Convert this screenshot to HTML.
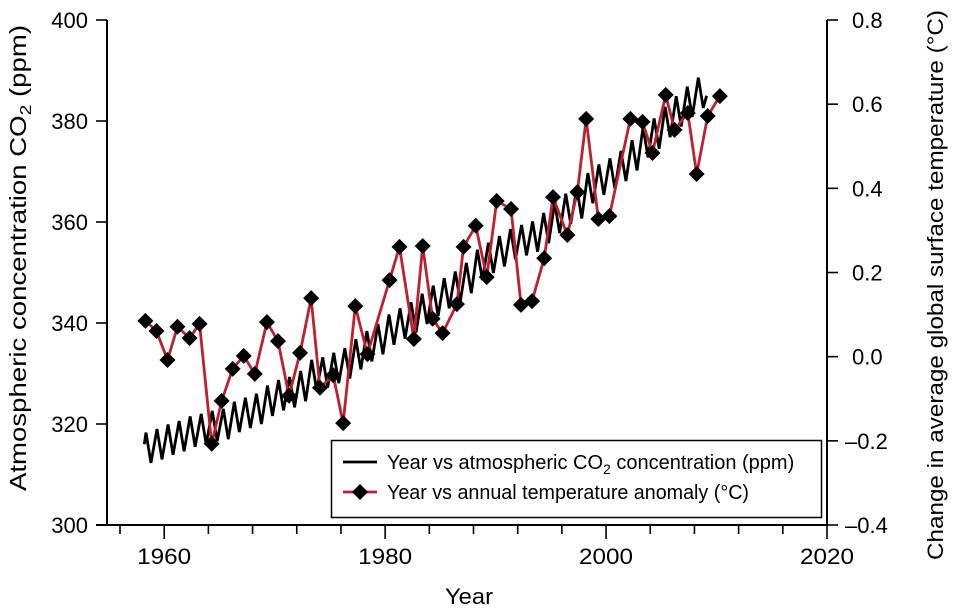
<!DOCTYPE html>
<html><head><meta charset="utf-8"><style>
body{margin:0;background:#fff;}
svg{display:block;font-family:"Liberation Sans",Arial,sans-serif;}
</style></head><body>
<svg id="chart" width="953" height="612" viewBox="0 0 953 612"></svg>
<script>
const co2Years=[1958,1959,1960,1961,1962,1963,1964,1965,1966,1967,1968,1969,1970,1971,1972,1973,1974,1975,1976,1977,1978,1979,1980,1981,1982,1983,1984,1985,1986,1987,1988,1989,1990,1991,1992,1993,1994,1995,1996,1997,1998,1999,2000,2001,2002,2003,2004,2005,2006,2007,2008];
const co2Peaks=[318.3,319,319.9,320.6,321.5,322,322.6,323,324.4,325.2,326,327.6,328.7,329.3,330.5,332.7,333.2,334.1,335,336.8,338.4,339.8,341.7,342.9,344.1,345.8,347.4,348.9,350.2,351.9,354.5,355.9,357.2,358.6,359.4,360.1,361.8,363.8,365.6,366.7,369.7,371.4,372.6,374.1,376.2,378.8,380.5,382.8,384.9,386.8,388.6];
const co2Troughs=[312.3,313,313.9,314.6,315.5,316,316.6,317,318.4,319.2,320,321.6,322.7,323.3,324.5,326.7,327.2,328.1,329,330.8,332.4,333.8,335.7,336.9,338.1,339.8,341.4,342.9,344.2,345.9,348.5,349.9,351.2,352.6,353.4,354.1,355.8,357.8,359.6,360.7,363.7,365.4,366.6,368.1,370.2,372.8,374.5,376.8,378.9,380.8,382.6];
const co2Start=[1958.2,316];
const co2End=[2009.1,385];
const tempYears=[1958.3,1959.3,1960.3,1961.2,1962.3,1963.2,1964.3,1965.2,1966.2,1967.2,1968.2,1969.3,1970.3,1971.3,1972.3,1973.3,1974.1,1975.3,1976.2,1977.3,1978.4,1980.4,1981.3,1982.6,1983.4,1984.3,1985.2,1986.5,1987.1,1988.2,1989.2,1990.1,1991.4,1992.3,1993.3,1994.4,1995.2,1996.5,1997.4,1998.2,1999.3,2000.3,2002.2,2003.3,2004.2,2005.4,2006.2,2007.4,2008.2,2009.2,2010.3];
const tempValues=[0.085,0.061,-0.008,0.071,0.044,0.078,-0.207,-0.105,-0.029,0.002,-0.041,0.082,0.037,-0.093,0.009,0.139,-0.074,-0.044,-0.158,0.120,0.006,0.182,0.261,0.042,0.263,0.090,0.056,0.125,0.261,0.311,0.189,0.370,0.351,0.123,0.132,0.234,0.379,0.289,0.391,0.565,0.327,0.334,0.565,0.558,0.484,0.622,0.539,0.579,0.434,0.572,0.619];
const xTicks=[1960,1980,2000,2020];
const leftTicks=[300,320,340,360,380,400];
const rightTicks=[-0.4,-0.2,0.0,0.2,0.4,0.6,0.8];

const svg=document.getElementById('chart');
const NS='http://www.w3.org/2000/svg';
const L=107,R=827,T=20,B=525;
const x=y=>164.2+(y-1960)*(827-164.2)/60;
const yl=v=>B-(v-300)*(B-T)/100;
const yr=v=>B-(v+0.4)*(B-T)/1.2;
function mk(tag,at,parent){const e=document.createElementNS(NS,tag);for(const k in at)e.setAttribute(k,at[k]);(parent||svg).appendChild(e);return e;}

let a=mk('line',{x1:L,y1:T,x2:L,y2:B,stroke:'#000','stroke-width':2});

a=mk('line',{x1:R,y1:T,x2:R,y2:B,stroke:'#000','stroke-width':2});

a=mk('line',{x1:96,y1:B,x2:R+1,y2:B,stroke:'#000','stroke-width':2});


for(let yv=1956;yv<=2020;yv+=4){
  const major=xTicks.includes(yv);
  const t=mk('line',{x1:x(yv),y1:B,x2:x(yv),y2:B+(major?14:9),stroke:'#000','stroke-width':1.6});
  
  
}
xTicks.forEach(v=>{
  const t=mk('text',{x:x(v),y:564,'text-anchor':'middle','font-size':22,textLength:54,lengthAdjust:'spacingAndGlyphs'});
  t.textContent=v;
  
  
});
leftTicks.forEach(v=>{
  const t=mk('line',{x1:L-11,y1:yl(v),x2:L,y2:yl(v),stroke:'#000','stroke-width':1.6});
  
  
  const s=mk('text',{x:88,y:yl(v)+8,'text-anchor':'end','font-size':22});
  s.textContent=v;
  
  
});
rightTicks.forEach(v=>{
  const t=mk('line',{x1:R,y1:yr(v),x2:R+11,y2:yr(v),stroke:'#000','stroke-width':1.6});
  
  
  const s=mk('text',{x:v<0?845:852,y:yr(v)+8,'text-anchor':'start','font-size':22});
  s.textContent=(v<0?'\u2013':'')+Math.abs(v).toFixed(1);
  
  
});
a=mk('text',{x:469,y:604,'text-anchor':'middle','font-size':22,textLength:48,lengthAdjust:'spacingAndGlyphs'});a.textContent='Year';

a=mk('text',{x:0,y:0,'text-anchor':'middle','font-size':23,transform:'translate(26,258) rotate(-90) scale(1.2,1)'});
a.innerHTML='Atmospheric concentration CO<tspan font-size="16" dy="5">2</tspan><tspan dy="-5"> (ppm)</tspan>';

a=mk('text',{x:0,y:0,'text-anchor':'middle','font-size':22,transform:'translate(943,285) rotate(-90)',textLength:550,lengthAdjust:'spacingAndGlyphs'});
a.textContent='Change in average global surface temperature (\u00b0C)';


let pts=[[x(co2Start[0]),yl(co2Start[1])]];
co2Years.forEach((yv,i)=>{pts.push([x(yv+0.35),yl(co2Peaks[i])]);pts.push([x(yv+0.8),yl(co2Troughs[i])]);});
pts.push([x(co2End[0]),yl(co2End[1])]);
a=mk('polyline',{points:pts.map(p=>p.join(',')).join(' '),fill:'none',stroke:'#000','stroke-width':2.8,'stroke-linejoin':'miter'});


a=mk('polyline',{points:tempYears.map((yv,i)=>x(yv)+','+yr(tempValues[i])).join(' '),fill:'none',stroke:'#c0202e','stroke-width':2.8});

tempYears.forEach((yv,i)=>{
  const cx=x(yv),cy=yr(tempValues[i]);
  const d=mk('polygon',{points:`${cx},${cy-8} ${cx+8},${cy} ${cx},${cy+8} ${cx-8},${cy}`,fill:'#000'});
  
  
});

const g=mk('g',{});

mk('rect',{x:331.5,y:440.5,width:490,height:77,fill:'#fff',stroke:'#000','stroke-width':1.5},g);
a=mk('line',{x1:343,y1:462,x2:377,y2:462,stroke:'#000','stroke-width':2.8},g);

a=mk('text',{x:387,y:469,'font-size':20},g);
a.innerHTML='Year vs atmospheric CO<tspan font-size="14" dy="5">2</tspan><tspan dy="-5"> concentration (ppm)</tspan>';

a=mk('line',{x1:343,y1:492,x2:377,y2:492,stroke:'#c0202e','stroke-width':2.8},g);

a=mk('polygon',{points:'360,484 368,492 360,500 352,492',fill:'#000'},g);

a=mk('text',{x:387,y:499,'font-size':20,textLength:362,lengthAdjust:'spacingAndGlyphs'},g);
a.textContent='Year vs annual temperature anomaly (\u00b0C)';

</script>
</body></html>
